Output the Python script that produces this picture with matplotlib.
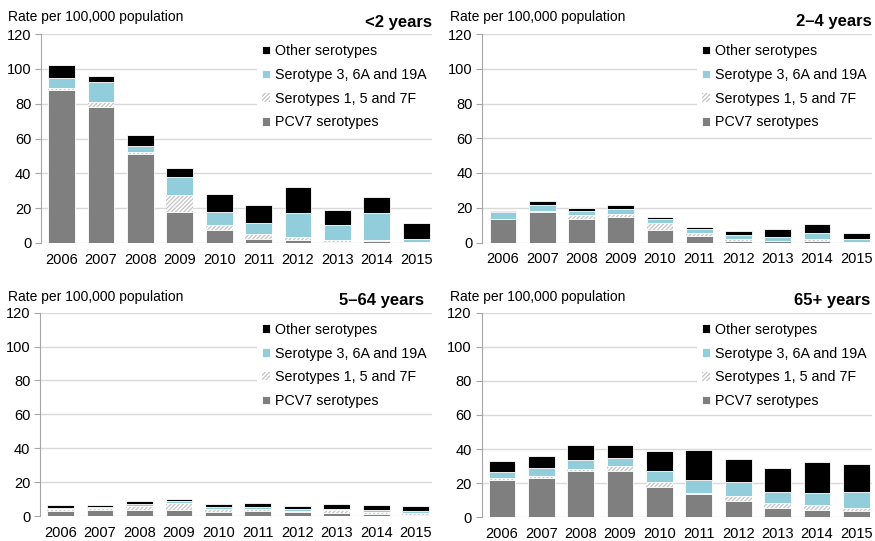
import numpy as np
import matplotlib
matplotlib.use('Agg')
import matplotlib.pyplot as plt

plt.rcParams['font.family'] = ['Liberation Sans', 'DejaVu Sans']

years = ['2006', '2007', '2008', '2009', '2010', '2011', '2012', '2013', '2014', '2015']
series_names = ['PCV7 serotypes', 'Serotypes 1, 5 and 7F',
                'Serotype 3, 6A and 19A', 'Other serotypes']
panel_titles = ['<2 years', '2–4 years', '5–64 years', '65+ years']

# stacked segments per age group: PCV7, 1/5/7F, 3/6A/19A, other
under2_pcv7 = [87.7, 78.3, 51.3, 17.8, 7.7, 2.3, 1.5, 0.8, 1.3, 0.6]
under2_s157 = [1.5, 2.5, 1.1, 10.0, 2.8, 3.1, 2.1, 0.7, 0.2, 0.2]
under2_s3619 = [5.3, 11.4, 3.5, 10.1, 7.1, 6.1, 13.6, 8.8, 15.7, 1.5]
under2_other = [7.9, 3.8, 5.9, 5.1, 10.3, 10.5, 15.0, 8.5, 9.4, 9.4]

age2_4_pcv7 = [13.5, 17.3, 13.5, 14.8, 7.1, 3.7, 1.0, 0.6, 0.8, 0.2]
age2_4_s157 = [0.3, 0.8, 2.3, 1.7, 4.1, 1.5, 1.1, 0.4, 1.1, 0.2]
age2_4_s3619 = [3.5, 3.2, 2.3, 2.7, 2.6, 2.5, 2.1, 2.3, 3.7, 1.7]
age2_4_other = [1.0, 2.4, 1.5, 2.1, 0.8, 1.3, 2.3, 4.2, 5.0, 3.3]

age5_64_pcv7 = [3.1, 3.5, 3.5, 3.5, 2.4, 2.8, 2.2, 2.0, 1.0, 0.8]
age5_64_s157 = [0.8, 1.0, 2.4, 4.4, 1.9, 1.1, 0.9, 1.5, 1.2, 1.2]
age5_64_s3619 = [0.8, 0.6, 1.2, 0.8, 0.8, 1.2, 0.8, 0.8, 1.3, 1.1]
age5_64_other = [1.6, 1.2, 1.9, 1.3, 2.0, 2.8, 2.0, 2.8, 2.8, 2.8]

age65_pcv7 = [21.9, 22.9, 27.0, 27.0, 18.0, 13.7, 9.8, 5.5, 4.5, 3.7]
age65_s157 = [1.2, 1.1, 1.5, 3.1, 2.7, 0.4, 2.5, 3.1, 2.7, 1.8]
age65_s3619 = [3.7, 5.1, 5.1, 4.5, 6.3, 7.6, 8.2, 6.3, 7.1, 9.2]
age65_other = [6.2, 6.7, 9.0, 7.6, 11.9, 18.0, 13.5, 13.8, 17.9, 16.6]

panels = [
    [under2_pcv7, under2_s157, under2_s3619, under2_other],
    [age2_4_pcv7, age2_4_s157, age2_4_s3619, age2_4_other],
    [age5_64_pcv7, age5_64_s157, age5_64_s3619, age5_64_other],
    [age65_pcv7, age65_s157, age65_s3619, age65_other],
]

W, H = 875, 541
fig = plt.figure(figsize=(W / 100, H / 100), dpi=100)

# axes boxes in pixels: left, right, top, bottom
boxes = [(41, 432, 34, 243), (482.5, 872, 34, 242.5),
         (40, 431.5, 312.7, 516), (481.5, 872, 312.7, 517.3)]
title_pos = [(432, 22), (871.5, 21.7), (424, 300.7), (870, 300)]
rate_pos = [(8, 17.3), (450, 17.3), (8, 296.7), (450, 296.7)]

styles = [
    dict(color='#7f7f7f', edgecolor='white', linewidth=0.6),
    dict(color='white', edgecolor='#c4c4c4', linewidth=0, hatch='////////'),
    dict(color='#92cddc', edgecolor='white', linewidth=0.6),
    dict(color='#000000', edgecolor='white', linewidth=0.6),
]

plt.rcParams['hatch.linewidth'] = 0.9
x = np.arange(len(years))

for k, (l, r, t, b) in enumerate(boxes):
    ax = fig.add_axes([l / W, 1 - b / H, (r - l) / W, (b - t) / H])
    bottom = np.zeros(len(years))
    bars = []
    for vals, name, st in zip(panels[k], series_names, styles):
        bc = ax.bar(x, vals, width=0.68, bottom=bottom, label=name, zorder=3, **st)
        bars.append(bc)
        bottom = bottom + np.array(vals)

    ax.set_ylim(0, 120)
    ax.set_yticks(range(0, 121, 20))
    ax.set_xlim(-0.52, 9.4)
    ax.set_xticks(x)
    ax.set_xticklabels(years)
    ax.grid(axis='y', color='#d9d9d9', linewidth=1, zorder=0)
    ax.set_axisbelow(True)
    for s in ['top', 'right', 'bottom']:
        ax.spines[s].set_visible(False)
    ax.spines['left'].set_color('#a6a6a6')
    ax.tick_params(axis='y', length=4, color='#a6a6a6', labelsize=10.5, pad=3)
    ax.tick_params(axis='x', length=0, labelsize=10.5, pad=7)

    leg = ax.legend(bars[::-1], series_names[::-1], loc='upper right',
                    bbox_to_anchor=(1.0, 0.975), fontsize=10.3, frameon=True,
                    facecolor='white', edgecolor='none', framealpha=1,
                    handlelength=0.55, handleheight=0.55, handletextpad=0.35,
                    labelspacing=0.68, borderpad=0.35, borderaxespad=0)
    leg.set_zorder(5)

    tx, ty = title_pos[k]
    fig.text(tx / W, 1 - ty / H, panel_titles[k], ha='right', va='center',
             fontsize=12, fontweight='bold')
    rx, ry = rate_pos[k]
    fig.text(rx / W, 1 - ry / H, 'Rate per 100,000 population', ha='left',
             va='center', fontsize=10)

fig.savefig('out.png', dpi=100)
